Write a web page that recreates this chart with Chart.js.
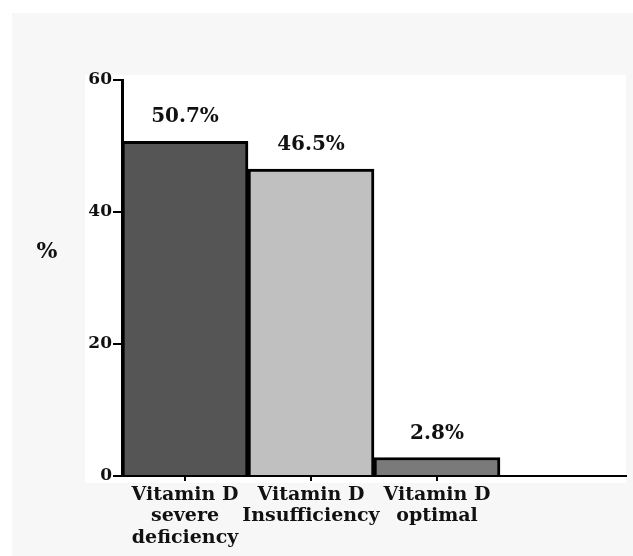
<!DOCTYPE html>
<html>
<head>
<meta charset="utf-8">
<script src="https://cdn.jsdelivr.net/npm/chart.js@4/dist/chart.umd.min.js"></script>
<style>
  html, body { margin: 0; padding: 0; background: #fff; }
  #wrap { width: 633px; height: 556px; position: relative; }
</style>
</head>
<body>
<div id="wrap"><canvas id="chart"></canvas></div>
<script>
// Vitamin D status distribution
const categories = [
  ["Vitamin D", "severe", "deficiency"],
  ["Vitamin D", "Insufficiency"],
  ["Vitamin D", "optimal"],
  ""
];
const percentValues = [50.7, 46.5, 2.8, null];
const barColors = ["#555555", "#c0c0c0", "#7a7a7a", "#ffffff"];
const yTicks = [0, 20, 40, 60];

const serif = "'DejaVu Serif', 'Liberation Serif', serif";

// background panels behind the chart
const panelPlugin = {
  id: "panel",
  beforeDraw(chart) {
    const c = chart.ctx;
    c.save();
    c.fillStyle = "#ffffff";
    c.fillRect(0, 0, chart.width, chart.height);
    c.fillStyle = "#f7f7f7";
    c.fillRect(12, 13, chart.width - 12, chart.height - 13);
    c.fillStyle = "#ffffff";
    c.fillRect(85, 75, 541, 408);
    c.restore();
  }
};

// value labels above bars + the "%" axis title
const labelPlugin = {
  id: "barLabels",
  afterDatasetsDraw(chart) {
    const c = chart.ctx;
    const meta = chart.getDatasetMeta(0);
    c.save();
    c.fillStyle = "#111";
    c.font = "bold 20px " + serif;
    c.textAlign = "center";
    c.textBaseline = "alphabetic";
    meta.data.forEach((bar, i) => {
      if (percentValues[i] == null) return;
      c.fillText(percentValues[i].toFixed(1) + "%", bar.x, bar.y - 19);
    });
    c.font = "bold 22px " + serif;
    c.textBaseline = "middle";
    c.fillText("%", 47, 252);
    c.restore();
  }
};

new Chart(document.getElementById("chart"), {
  type: "bar",
  data: {
    labels: categories,
    datasets: [{
      data: percentValues,
      backgroundColor: barColors,
      borderColor: "#000",
      borderWidth: 3,
      borderSkipped: "bottom",
      barPercentage: 1,
      categoryPercentage: 1
    }]
  },
  options: {
    responsive: true,
    maintainAspectRatio: false,
    animation: false,
    layout: { padding: { top: 80, right: 7, bottom: 0, left: 0 } },
    plugins: { legend: { display: false }, tooltip: { enabled: false } },
    scales: {
      x: {
        afterFit(scale) { scale.height = 80; },
        border: { color: "#000", width: 2 },
        grid: {
          offset: false,
          drawOnChartArea: false,
          tickLength: 5,
          lineWidth: 2,
          color: (ctx) => ctx.index === 3 ? "rgba(0,0,0,0)" : "#000"
        },
        ticks: {
          color: "#111",
          padding: 3,
          maxRotation: 0,
          autoSkip: false,
          font: { family: serif, size: 19, weight: "bold", lineHeight: 1.13 }
        }
      },
      y: {
        min: 0,
        max: 60,
        afterFit(scale) { scale.width = 122; },
        afterBuildTicks(scale) { scale.ticks = yTicks.map(v => ({ value: v })); },
        border: { color: "#000", width: 3 },
        grid: {
          drawOnChartArea: false,
          tickLength: 9,
          lineWidth: 2,
          color: "#000"
        },
        ticks: {
          color: "#111",
          padding: 1,
          font: { family: serif, size: 17, weight: "bold" }
        }
      }
    }
  },
  plugins: [panelPlugin, labelPlugin]
});
</script>
</body>
</html>
